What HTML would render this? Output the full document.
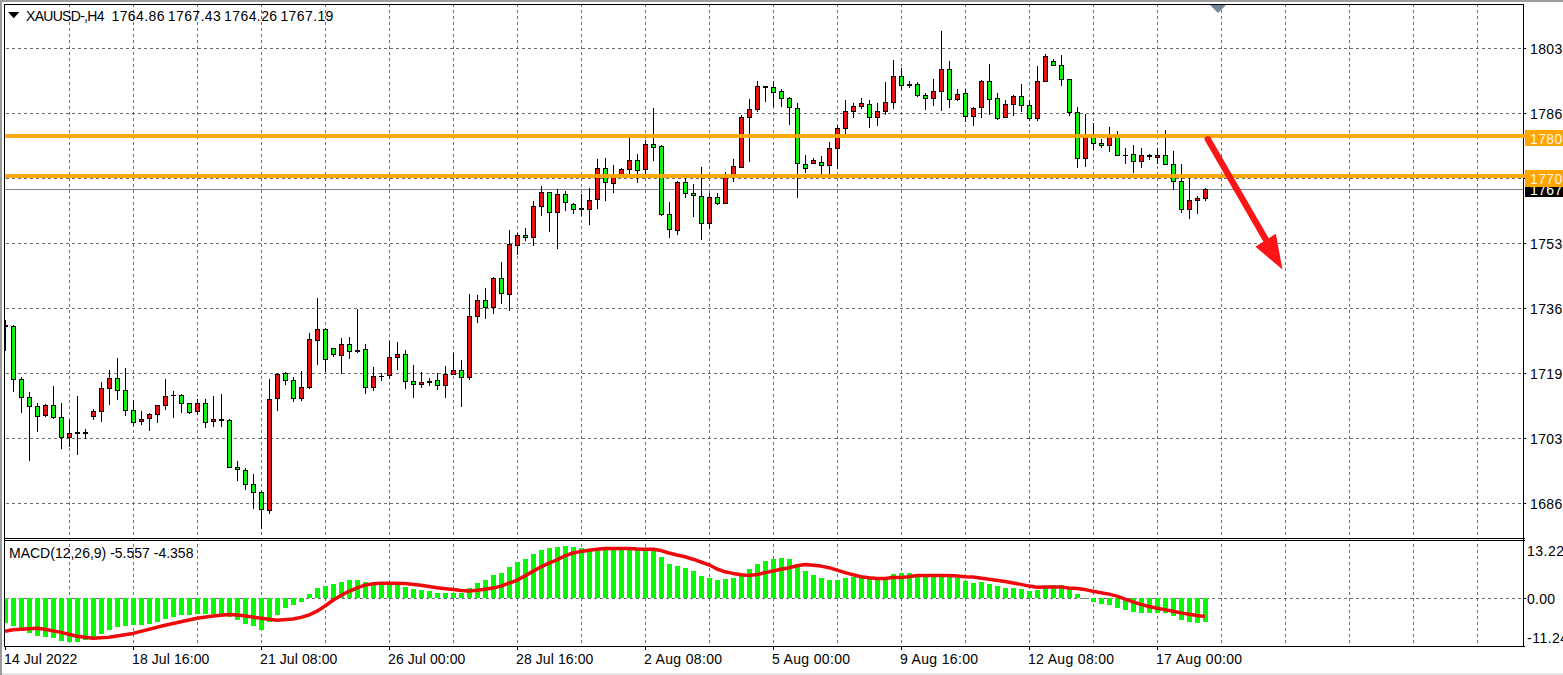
<!DOCTYPE html>
<html><head><meta charset="utf-8"><title>XAUUSD H4</title>
<style>
html,body{margin:0;padding:0;background:#fff;overflow:hidden;}
html{width:1563px;height:675px;}
body{width:1563px;height:675px;position:relative;overflow:hidden;font-family:"Liberation Sans",sans-serif;}
.t{position:absolute;font-family:"Liberation Sans",sans-serif;font-size:14px;line-height:16px;height:16px;white-space:nowrap;}
#w{position:absolute;left:0;top:0;width:1563px;height:675px;overflow:hidden;background:#fff;}
</style></head><body>
<div id="w">
<svg width="1563" height="675" viewBox="0 0 1563 675" style="position:absolute;left:0;top:0"><rect x="0" y="0" width="1563" height="675" fill="#fff"/><g shape-rendering="crispEdges"><rect x="0" y="0" width="1563" height="2" fill="#9c9c9c"/><rect x="0" y="0" width="2" height="675" fill="#9c9c9c"/><rect x="2" y="673" width="1561" height="2" fill="#e6e6e6"/><g stroke="#6e6e6e" stroke-width="1" stroke-dasharray="3 3" fill="none"><line x1="69.5" y1="4" x2="69.5" y2="646"/><line x1="133.5" y1="4" x2="133.5" y2="646"/><line x1="197.5" y1="4" x2="197.5" y2="646"/><line x1="261.5" y1="4" x2="261.5" y2="646"/><line x1="325.5" y1="4" x2="325.5" y2="646"/><line x1="389.5" y1="4" x2="389.5" y2="646"/><line x1="453.5" y1="4" x2="453.5" y2="646"/><line x1="517.5" y1="4" x2="517.5" y2="646"/><line x1="581.5" y1="4" x2="581.5" y2="646"/><line x1="645.5" y1="4" x2="645.5" y2="646"/><line x1="709.5" y1="4" x2="709.5" y2="646"/><line x1="773.5" y1="4" x2="773.5" y2="646"/><line x1="837.5" y1="4" x2="837.5" y2="646"/><line x1="901.5" y1="4" x2="901.5" y2="646"/><line x1="965.5" y1="4" x2="965.5" y2="646"/><line x1="1029.5" y1="4" x2="1029.5" y2="646"/><line x1="1093.5" y1="4" x2="1093.5" y2="646"/><line x1="1157.5" y1="4" x2="1157.5" y2="646"/><line x1="1221.5" y1="4" x2="1221.5" y2="646"/><line x1="1285.5" y1="4" x2="1285.5" y2="646"/><line x1="1349.5" y1="4" x2="1349.5" y2="646"/><line x1="1413.5" y1="4" x2="1413.5" y2="646"/><line x1="1477.5" y1="4" x2="1477.5" y2="646"/><line x1="6" y1="48.5" x2="1523" y2="48.5"/><line x1="6" y1="113.5" x2="1523" y2="113.5"/><line x1="6" y1="178.5" x2="1523" y2="178.5"/><line x1="6" y1="243.5" x2="1523" y2="243.5"/><line x1="6" y1="308.5" x2="1523" y2="308.5"/><line x1="6" y1="373.5" x2="1523" y2="373.5"/><line x1="6" y1="438.5" x2="1523" y2="438.5"/><line x1="6" y1="503.5" x2="1523" y2="503.5"/><line x1="6" y1="598.5" x2="1523" y2="598.5"/></g><g fill="#08f808"><rect x="5" y="598" width="3" height="25"/><rect x="11" y="598" width="5" height="28"/><rect x="19" y="598" width="5" height="30"/><rect x="27" y="598" width="5" height="35"/><rect x="35" y="598" width="5" height="38"/><rect x="43" y="598" width="5" height="39"/><rect x="51" y="598" width="5" height="40"/><rect x="59" y="598" width="5" height="43"/><rect x="67" y="598" width="5" height="44"/><rect x="75" y="598" width="5" height="44"/><rect x="83" y="598" width="5" height="42"/><rect x="91" y="598" width="5" height="39"/><rect x="99" y="598" width="5" height="36"/><rect x="107" y="598" width="5" height="32"/><rect x="115" y="598" width="5" height="29"/><rect x="123" y="598" width="5" height="28"/><rect x="131" y="598" width="5" height="27"/><rect x="139" y="598" width="5" height="27"/><rect x="147" y="598" width="5" height="26"/><rect x="155" y="598" width="5" height="24"/><rect x="163" y="598" width="5" height="21"/><rect x="171" y="598" width="5" height="19"/><rect x="179" y="598" width="5" height="17"/><rect x="187" y="598" width="5" height="17"/><rect x="195" y="598" width="5" height="16"/><rect x="203" y="598" width="5" height="16"/><rect x="211" y="598" width="5" height="16"/><rect x="219" y="598" width="5" height="17"/><rect x="227" y="598" width="5" height="19"/><rect x="235" y="598" width="5" height="22"/><rect x="243" y="598" width="5" height="26"/><rect x="251" y="598" width="5" height="28"/><rect x="259" y="598" width="5" height="32"/><rect x="267" y="598" width="5" height="24"/><rect x="275" y="598" width="5" height="17"/><rect x="283" y="598" width="5" height="10"/><rect x="291" y="598" width="5" height="7"/><rect x="299" y="598" width="5" height="4"/><rect x="307" y="594" width="5" height="4"/><rect x="315" y="588" width="5" height="10"/><rect x="323" y="586" width="5" height="12"/><rect x="331" y="584" width="5" height="14"/><rect x="339" y="582" width="5" height="16"/><rect x="347" y="580" width="5" height="18"/><rect x="355" y="580" width="5" height="18"/><rect x="363" y="582" width="5" height="16"/><rect x="371" y="584" width="5" height="14"/><rect x="379" y="584" width="5" height="14"/><rect x="387" y="584" width="5" height="14"/><rect x="395" y="585" width="5" height="13"/><rect x="403" y="587" width="5" height="11"/><rect x="411" y="589" width="5" height="9"/><rect x="419" y="590" width="5" height="8"/><rect x="427" y="591" width="5" height="7"/><rect x="435" y="593" width="5" height="5"/><rect x="443" y="593" width="5" height="5"/><rect x="451" y="593" width="5" height="5"/><rect x="459" y="593" width="5" height="5"/><rect x="467" y="588" width="5" height="10"/><rect x="475" y="583" width="5" height="15"/><rect x="483" y="580" width="5" height="18"/><rect x="491" y="575" width="5" height="23"/><rect x="499" y="573" width="5" height="25"/><rect x="507" y="567" width="5" height="31"/><rect x="515" y="562" width="5" height="36"/><rect x="523" y="559" width="5" height="39"/><rect x="531" y="554" width="5" height="44"/><rect x="539" y="550" width="5" height="48"/><rect x="547" y="548" width="5" height="50"/><rect x="555" y="547" width="5" height="51"/><rect x="563" y="546" width="5" height="52"/><rect x="571" y="547" width="5" height="51"/><rect x="579" y="548" width="5" height="50"/><rect x="587" y="549" width="5" height="49"/><rect x="595" y="548" width="5" height="50"/><rect x="603" y="548" width="5" height="50"/><rect x="611" y="548" width="5" height="50"/><rect x="619" y="548" width="5" height="50"/><rect x="627" y="548" width="5" height="50"/><rect x="635" y="548" width="5" height="50"/><rect x="643" y="548" width="5" height="50"/><rect x="651" y="548" width="5" height="50"/><rect x="659" y="557" width="5" height="41"/><rect x="667" y="564" width="5" height="34"/><rect x="675" y="566" width="5" height="32"/><rect x="683" y="568" width="5" height="30"/><rect x="691" y="571" width="5" height="27"/><rect x="699" y="576" width="5" height="22"/><rect x="707" y="578" width="5" height="20"/><rect x="715" y="580" width="5" height="18"/><rect x="723" y="579" width="5" height="19"/><rect x="731" y="578" width="5" height="20"/><rect x="739" y="575" width="5" height="23"/><rect x="747" y="569" width="5" height="29"/><rect x="755" y="564" width="5" height="34"/><rect x="763" y="561" width="5" height="37"/><rect x="771" y="559" width="5" height="39"/><rect x="779" y="558" width="5" height="40"/><rect x="787" y="559" width="5" height="39"/><rect x="795" y="567" width="5" height="31"/><rect x="803" y="571" width="5" height="27"/><rect x="811" y="575" width="5" height="23"/><rect x="819" y="578" width="5" height="20"/><rect x="827" y="580" width="5" height="18"/><rect x="835" y="580" width="5" height="18"/><rect x="843" y="578" width="5" height="20"/><rect x="851" y="577" width="5" height="21"/><rect x="859" y="577" width="5" height="21"/><rect x="867" y="578" width="5" height="20"/><rect x="875" y="579" width="5" height="19"/><rect x="883" y="577" width="5" height="21"/><rect x="891" y="574" width="5" height="24"/><rect x="899" y="573" width="5" height="25"/><rect x="907" y="573" width="5" height="25"/><rect x="915" y="575" width="5" height="23"/><rect x="923" y="576" width="5" height="22"/><rect x="931" y="576" width="5" height="22"/><rect x="939" y="576" width="5" height="22"/><rect x="947" y="577" width="5" height="21"/><rect x="955" y="578" width="5" height="20"/><rect x="963" y="581" width="5" height="17"/><rect x="971" y="583" width="5" height="15"/><rect x="979" y="582" width="5" height="16"/><rect x="987" y="584" width="5" height="14"/><rect x="995" y="586" width="5" height="12"/><rect x="1003" y="588" width="5" height="10"/><rect x="1011" y="588" width="5" height="10"/><rect x="1019" y="589" width="5" height="9"/><rect x="1027" y="591" width="5" height="7"/><rect x="1035" y="590" width="5" height="8"/><rect x="1043" y="588" width="5" height="10"/><rect x="1051" y="585" width="5" height="13"/><rect x="1059" y="585" width="5" height="13"/><rect x="1067" y="589" width="5" height="9"/><rect x="1075" y="594" width="5" height="4"/><rect x="1091" y="598" width="5" height="4"/><rect x="1099" y="598" width="5" height="6"/><rect x="1107" y="598" width="5" height="7"/><rect x="1115" y="598" width="5" height="10"/><rect x="1123" y="598" width="5" height="12"/><rect x="1131" y="598" width="5" height="14"/><rect x="1139" y="598" width="5" height="15"/><rect x="1147" y="598" width="5" height="15"/><rect x="1155" y="598" width="5" height="15"/><rect x="1163" y="598" width="5" height="15"/><rect x="1171" y="598" width="5" height="18"/><rect x="1179" y="598" width="5" height="22"/><rect x="1187" y="598" width="5" height="24"/><rect x="1195" y="598" width="5" height="25"/><rect x="1203" y="598" width="5" height="24"/><rect x="1081" y="598" width="8" height="1" fill="#5f8f5f"/></g><rect x="5" y="189" width="1518" height="1" fill="#7c8698"/><rect x="5" y="320" width="1" height="31" fill="#000"/><rect x="5" y="325" width="3" height="2" fill="#000"/><rect x="13" y="325" width="1" height="67" fill="#000"/><rect x="11" y="326" width="5" height="54" fill="#000"/><rect x="12" y="327" width="3" height="52" fill="#12f212"/><rect x="21" y="377" width="1" height="36" fill="#000"/><rect x="19" y="379" width="5" height="19" fill="#000"/><rect x="20" y="380" width="3" height="17" fill="#12f212"/><rect x="29" y="392" width="1" height="69" fill="#000"/><rect x="27" y="397" width="5" height="10" fill="#000"/><rect x="28" y="398" width="3" height="8" fill="#12f212"/><rect x="37" y="403" width="1" height="29" fill="#000"/><rect x="35" y="406" width="5" height="11" fill="#000"/><rect x="36" y="407" width="3" height="9" fill="#12f212"/><rect x="45" y="404" width="1" height="13" fill="#000"/><rect x="43" y="405" width="5" height="11" fill="#000"/><rect x="44" y="406" width="3" height="9" fill="#e61414"/><rect x="53" y="386" width="1" height="33" fill="#000"/><rect x="51" y="405" width="5" height="13" fill="#000"/><rect x="52" y="406" width="3" height="11" fill="#12f212"/><rect x="61" y="403" width="1" height="46" fill="#000"/><rect x="59" y="417" width="5" height="21" fill="#000"/><rect x="60" y="418" width="3" height="19" fill="#12f212"/><rect x="69" y="420" width="1" height="27" fill="#000"/><rect x="67" y="433" width="5" height="5" fill="#000"/><rect x="68" y="434" width="3" height="3" fill="#e61414"/><rect x="77" y="396" width="1" height="59" fill="#000"/><rect x="75" y="432" width="5" height="2" fill="#000"/><rect x="85" y="429" width="1" height="10" fill="#000"/><rect x="83" y="432" width="5" height="2" fill="#000"/><rect x="93" y="409" width="1" height="11" fill="#000"/><rect x="91" y="411" width="5" height="6" fill="#000"/><rect x="92" y="412" width="3" height="4" fill="#e61414"/><rect x="101" y="382" width="1" height="40" fill="#000"/><rect x="99" y="388" width="5" height="24" fill="#000"/><rect x="100" y="389" width="3" height="22" fill="#e61414"/><rect x="109" y="370" width="1" height="35" fill="#000"/><rect x="107" y="378" width="5" height="11" fill="#000"/><rect x="108" y="379" width="3" height="9" fill="#e61414"/><rect x="117" y="358" width="1" height="42" fill="#000"/><rect x="115" y="378" width="5" height="13" fill="#000"/><rect x="116" y="379" width="3" height="11" fill="#12f212"/><rect x="125" y="368" width="1" height="48" fill="#000"/><rect x="123" y="390" width="5" height="21" fill="#000"/><rect x="124" y="391" width="3" height="19" fill="#12f212"/><rect x="133" y="400" width="1" height="26" fill="#000"/><rect x="131" y="410" width="5" height="13" fill="#000"/><rect x="132" y="411" width="3" height="11" fill="#12f212"/><rect x="141" y="411" width="1" height="14" fill="#000"/><rect x="139" y="419" width="5" height="3" fill="#000"/><rect x="140" y="420" width="3" height="1" fill="#e61414"/><rect x="149" y="413" width="1" height="18" fill="#000"/><rect x="147" y="414" width="5" height="5" fill="#000"/><rect x="148" y="415" width="3" height="3" fill="#e61414"/><rect x="157" y="405" width="1" height="18" fill="#000"/><rect x="155" y="405" width="5" height="10" fill="#000"/><rect x="156" y="406" width="3" height="8" fill="#e61414"/><rect x="165" y="379" width="1" height="31" fill="#000"/><rect x="163" y="396" width="5" height="10" fill="#000"/><rect x="164" y="397" width="3" height="8" fill="#e61414"/><rect x="173" y="391" width="1" height="27" fill="#000"/><rect x="171" y="395" width="5" height="1" fill="#000"/><rect x="181" y="394" width="1" height="19" fill="#000"/><rect x="179" y="395" width="5" height="9" fill="#000"/><rect x="180" y="396" width="3" height="7" fill="#12f212"/><rect x="189" y="403" width="1" height="11" fill="#000"/><rect x="187" y="403" width="5" height="10" fill="#000"/><rect x="188" y="404" width="3" height="8" fill="#12f212"/><rect x="197" y="399" width="1" height="16" fill="#000"/><rect x="195" y="403" width="5" height="9" fill="#000"/><rect x="196" y="404" width="3" height="7" fill="#e61414"/><rect x="205" y="399" width="1" height="29" fill="#000"/><rect x="203" y="403" width="5" height="20" fill="#000"/><rect x="204" y="404" width="3" height="18" fill="#12f212"/><rect x="213" y="396" width="1" height="31" fill="#000"/><rect x="211" y="419" width="5" height="3" fill="#000"/><rect x="212" y="420" width="3" height="1" fill="#e61414"/><rect x="221" y="394" width="1" height="33" fill="#000"/><rect x="219" y="419" width="5" height="2" fill="#000"/><rect x="229" y="419" width="1" height="49" fill="#000"/><rect x="227" y="420" width="5" height="48" fill="#000"/><rect x="228" y="421" width="3" height="46" fill="#12f212"/><rect x="237" y="461" width="1" height="20" fill="#000"/><rect x="235" y="467" width="5" height="3" fill="#000"/><rect x="236" y="468" width="3" height="1" fill="#12f212"/><rect x="245" y="468" width="1" height="22" fill="#000"/><rect x="243" y="470" width="5" height="15" fill="#000"/><rect x="244" y="471" width="3" height="13" fill="#12f212"/><rect x="253" y="474" width="1" height="35" fill="#000"/><rect x="251" y="484" width="5" height="9" fill="#000"/><rect x="252" y="485" width="3" height="7" fill="#12f212"/><rect x="261" y="491" width="1" height="38" fill="#000"/><rect x="259" y="492" width="5" height="18" fill="#000"/><rect x="260" y="493" width="3" height="16" fill="#12f212"/><rect x="269" y="379" width="1" height="135" fill="#000"/><rect x="267" y="399" width="5" height="112" fill="#000"/><rect x="268" y="400" width="3" height="110" fill="#e61414"/><rect x="277" y="373" width="1" height="38" fill="#000"/><rect x="275" y="374" width="5" height="25" fill="#000"/><rect x="276" y="375" width="3" height="23" fill="#e61414"/><rect x="285" y="372" width="1" height="13" fill="#000"/><rect x="283" y="373" width="5" height="8" fill="#000"/><rect x="284" y="374" width="3" height="6" fill="#12f212"/><rect x="293" y="377" width="1" height="25" fill="#000"/><rect x="291" y="380" width="5" height="19" fill="#000"/><rect x="292" y="381" width="3" height="17" fill="#12f212"/><rect x="301" y="371" width="1" height="30" fill="#000"/><rect x="299" y="387" width="5" height="12" fill="#000"/><rect x="300" y="388" width="3" height="10" fill="#e61414"/><rect x="309" y="333" width="1" height="56" fill="#000"/><rect x="307" y="339" width="5" height="49" fill="#000"/><rect x="308" y="340" width="3" height="47" fill="#e61414"/><rect x="317" y="298" width="1" height="67" fill="#000"/><rect x="315" y="329" width="5" height="12" fill="#000"/><rect x="316" y="330" width="3" height="10" fill="#e61414"/><rect x="325" y="328" width="1" height="44" fill="#000"/><rect x="323" y="329" width="5" height="31" fill="#000"/><rect x="324" y="330" width="3" height="29" fill="#12f212"/><rect x="333" y="348" width="1" height="9" fill="#000"/><rect x="331" y="348" width="5" height="7" fill="#000"/><rect x="332" y="349" width="3" height="5" fill="#12f212"/><rect x="341" y="338" width="1" height="36" fill="#000"/><rect x="339" y="344" width="5" height="12" fill="#000"/><rect x="340" y="345" width="3" height="10" fill="#e61414"/><rect x="349" y="337" width="1" height="22" fill="#000"/><rect x="347" y="344" width="5" height="8" fill="#000"/><rect x="348" y="345" width="3" height="6" fill="#12f212"/><rect x="357" y="309" width="1" height="44" fill="#000"/><rect x="355" y="350" width="5" height="2" fill="#000"/><rect x="365" y="344" width="1" height="50" fill="#000"/><rect x="363" y="349" width="5" height="39" fill="#000"/><rect x="364" y="350" width="3" height="37" fill="#12f212"/><rect x="373" y="367" width="1" height="24" fill="#000"/><rect x="371" y="376" width="5" height="12" fill="#000"/><rect x="372" y="377" width="3" height="10" fill="#e61414"/><rect x="381" y="373" width="1" height="8" fill="#000"/><rect x="379" y="376" width="5" height="1" fill="#000"/><rect x="389" y="341" width="1" height="38" fill="#000"/><rect x="387" y="357" width="5" height="19" fill="#000"/><rect x="388" y="358" width="3" height="17" fill="#e61414"/><rect x="397" y="342" width="1" height="28" fill="#000"/><rect x="395" y="354" width="5" height="4" fill="#000"/><rect x="396" y="355" width="3" height="2" fill="#e61414"/><rect x="405" y="350" width="1" height="39" fill="#000"/><rect x="403" y="354" width="5" height="28" fill="#000"/><rect x="404" y="355" width="3" height="26" fill="#12f212"/><rect x="413" y="365" width="1" height="33" fill="#000"/><rect x="411" y="381" width="5" height="4" fill="#000"/><rect x="412" y="382" width="3" height="2" fill="#12f212"/><rect x="421" y="372" width="1" height="16" fill="#000"/><rect x="419" y="382" width="5" height="3" fill="#000"/><rect x="420" y="383" width="3" height="1" fill="#e61414"/><rect x="429" y="378" width="1" height="8" fill="#000"/><rect x="427" y="381" width="5" height="2" fill="#000"/><rect x="437" y="373" width="1" height="17" fill="#000"/><rect x="435" y="380" width="5" height="6" fill="#000"/><rect x="436" y="381" width="3" height="4" fill="#12f212"/><rect x="445" y="366" width="1" height="32" fill="#000"/><rect x="443" y="374" width="5" height="12" fill="#000"/><rect x="444" y="375" width="3" height="10" fill="#e61414"/><rect x="453" y="353" width="1" height="22" fill="#000"/><rect x="451" y="370" width="5" height="5" fill="#000"/><rect x="452" y="371" width="3" height="3" fill="#e61414"/><rect x="461" y="360" width="1" height="47" fill="#000"/><rect x="459" y="370" width="5" height="8" fill="#000"/><rect x="460" y="371" width="3" height="6" fill="#12f212"/><rect x="469" y="294" width="1" height="86" fill="#000"/><rect x="467" y="316" width="5" height="62" fill="#000"/><rect x="468" y="317" width="3" height="60" fill="#e61414"/><rect x="477" y="295" width="1" height="28" fill="#000"/><rect x="475" y="300" width="5" height="17" fill="#000"/><rect x="476" y="301" width="3" height="15" fill="#e61414"/><rect x="485" y="288" width="1" height="31" fill="#000"/><rect x="483" y="300" width="5" height="8" fill="#000"/><rect x="484" y="301" width="3" height="6" fill="#12f212"/><rect x="493" y="277" width="1" height="37" fill="#000"/><rect x="491" y="278" width="5" height="30" fill="#000"/><rect x="492" y="279" width="3" height="28" fill="#e61414"/><rect x="501" y="262" width="1" height="42" fill="#000"/><rect x="499" y="278" width="5" height="16" fill="#000"/><rect x="500" y="279" width="3" height="14" fill="#12f212"/><rect x="509" y="230" width="1" height="81" fill="#000"/><rect x="507" y="244" width="5" height="51" fill="#000"/><rect x="508" y="245" width="3" height="49" fill="#e61414"/><rect x="517" y="233" width="1" height="22" fill="#000"/><rect x="515" y="235" width="5" height="11" fill="#000"/><rect x="516" y="236" width="3" height="9" fill="#e61414"/><rect x="525" y="228" width="1" height="13" fill="#000"/><rect x="523" y="235" width="5" height="3" fill="#000"/><rect x="524" y="236" width="3" height="1" fill="#12f212"/><rect x="533" y="201" width="1" height="45" fill="#000"/><rect x="531" y="206" width="5" height="32" fill="#000"/><rect x="532" y="207" width="3" height="30" fill="#e61414"/><rect x="541" y="186" width="1" height="30" fill="#000"/><rect x="539" y="192" width="5" height="15" fill="#000"/><rect x="540" y="193" width="3" height="13" fill="#e61414"/><rect x="549" y="192" width="1" height="40" fill="#000"/><rect x="547" y="192" width="5" height="21" fill="#000"/><rect x="548" y="193" width="3" height="19" fill="#12f212"/><rect x="557" y="189" width="1" height="60" fill="#000"/><rect x="555" y="194" width="5" height="19" fill="#000"/><rect x="556" y="195" width="3" height="17" fill="#e61414"/><rect x="565" y="191" width="1" height="20" fill="#000"/><rect x="563" y="194" width="5" height="9" fill="#000"/><rect x="564" y="195" width="3" height="7" fill="#12f212"/><rect x="573" y="203" width="1" height="11" fill="#000"/><rect x="571" y="204" width="5" height="6" fill="#000"/><rect x="572" y="205" width="3" height="4" fill="#12f212"/><rect x="581" y="194" width="1" height="22" fill="#000"/><rect x="579" y="208" width="5" height="2" fill="#000"/><rect x="589" y="188" width="1" height="37" fill="#000"/><rect x="587" y="200" width="5" height="10" fill="#000"/><rect x="588" y="201" width="3" height="8" fill="#e61414"/><rect x="597" y="159" width="1" height="50" fill="#000"/><rect x="595" y="168" width="5" height="32" fill="#000"/><rect x="596" y="169" width="3" height="30" fill="#e61414"/><rect x="605" y="158" width="1" height="43" fill="#000"/><rect x="603" y="168" width="5" height="15" fill="#000"/><rect x="604" y="169" width="3" height="13" fill="#12f212"/><rect x="613" y="165" width="1" height="28" fill="#000"/><rect x="611" y="176" width="5" height="8" fill="#000"/><rect x="612" y="177" width="3" height="6" fill="#e61414"/><rect x="621" y="168" width="1" height="8" fill="#000"/><rect x="619" y="169" width="5" height="7" fill="#000"/><rect x="620" y="170" width="3" height="5" fill="#e61414"/><rect x="629" y="138" width="1" height="36" fill="#000"/><rect x="627" y="160" width="5" height="10" fill="#000"/><rect x="628" y="161" width="3" height="8" fill="#e61414"/><rect x="637" y="154" width="1" height="29" fill="#000"/><rect x="635" y="160" width="5" height="11" fill="#000"/><rect x="636" y="161" width="3" height="9" fill="#12f212"/><rect x="645" y="140" width="1" height="34" fill="#000"/><rect x="643" y="144" width="5" height="26" fill="#000"/><rect x="644" y="145" width="3" height="24" fill="#e61414"/><rect x="653" y="108" width="1" height="53" fill="#000"/><rect x="651" y="144" width="5" height="4" fill="#000"/><rect x="652" y="145" width="3" height="2" fill="#12f212"/><rect x="661" y="145" width="1" height="71" fill="#000"/><rect x="659" y="146" width="5" height="69" fill="#000"/><rect x="660" y="147" width="3" height="67" fill="#12f212"/><rect x="669" y="202" width="1" height="36" fill="#000"/><rect x="667" y="214" width="5" height="16" fill="#000"/><rect x="668" y="215" width="3" height="14" fill="#12f212"/><rect x="677" y="181" width="1" height="54" fill="#000"/><rect x="675" y="182" width="5" height="49" fill="#000"/><rect x="676" y="183" width="3" height="47" fill="#e61414"/><rect x="685" y="178" width="1" height="20" fill="#000"/><rect x="683" y="182" width="5" height="12" fill="#000"/><rect x="684" y="183" width="3" height="10" fill="#12f212"/><rect x="693" y="184" width="1" height="33" fill="#000"/><rect x="691" y="193" width="5" height="3" fill="#000"/><rect x="692" y="194" width="3" height="1" fill="#12f212"/><rect x="701" y="167" width="1" height="73" fill="#000"/><rect x="699" y="196" width="5" height="28" fill="#000"/><rect x="700" y="197" width="3" height="26" fill="#12f212"/><rect x="709" y="193" width="1" height="36" fill="#000"/><rect x="707" y="197" width="5" height="27" fill="#000"/><rect x="708" y="198" width="3" height="25" fill="#e61414"/><rect x="717" y="193" width="1" height="12" fill="#000"/><rect x="715" y="197" width="5" height="7" fill="#000"/><rect x="716" y="198" width="3" height="5" fill="#12f212"/><rect x="725" y="172" width="1" height="32" fill="#000"/><rect x="723" y="177" width="5" height="27" fill="#000"/><rect x="724" y="178" width="3" height="25" fill="#e61414"/><rect x="733" y="159" width="1" height="23" fill="#000"/><rect x="731" y="166" width="5" height="10" fill="#000"/><rect x="732" y="167" width="3" height="8" fill="#e61414"/><rect x="741" y="115" width="1" height="53" fill="#000"/><rect x="739" y="117" width="5" height="51" fill="#000"/><rect x="740" y="118" width="3" height="49" fill="#e61414"/><rect x="749" y="99" width="1" height="63" fill="#000"/><rect x="747" y="109" width="5" height="9" fill="#000"/><rect x="748" y="110" width="3" height="7" fill="#e61414"/><rect x="757" y="81" width="1" height="31" fill="#000"/><rect x="755" y="86" width="5" height="24" fill="#000"/><rect x="756" y="87" width="3" height="22" fill="#e61414"/><rect x="765" y="86" width="1" height="16" fill="#000"/><rect x="763" y="86" width="5" height="2" fill="#000"/><rect x="773" y="81" width="1" height="26" fill="#000"/><rect x="771" y="87" width="5" height="6" fill="#000"/><rect x="772" y="88" width="3" height="4" fill="#12f212"/><rect x="781" y="89" width="1" height="18" fill="#000"/><rect x="779" y="91" width="5" height="8" fill="#000"/><rect x="780" y="92" width="3" height="6" fill="#12f212"/><rect x="789" y="97" width="1" height="28" fill="#000"/><rect x="787" y="98" width="5" height="10" fill="#000"/><rect x="788" y="99" width="3" height="8" fill="#12f212"/><rect x="797" y="103" width="1" height="95" fill="#000"/><rect x="795" y="108" width="5" height="56" fill="#000"/><rect x="796" y="109" width="3" height="54" fill="#12f212"/><rect x="805" y="155" width="1" height="18" fill="#000"/><rect x="803" y="164" width="5" height="5" fill="#000"/><rect x="804" y="165" width="3" height="3" fill="#12f212"/><rect x="813" y="158" width="1" height="6" fill="#000"/><rect x="811" y="160" width="5" height="4" fill="#000"/><rect x="812" y="161" width="3" height="2" fill="#e61414"/><rect x="821" y="156" width="1" height="18" fill="#000"/><rect x="819" y="162" width="5" height="4" fill="#000"/><rect x="820" y="163" width="3" height="2" fill="#12f212"/><rect x="829" y="142" width="1" height="32" fill="#000"/><rect x="827" y="148" width="5" height="18" fill="#000"/><rect x="828" y="149" width="3" height="16" fill="#e61414"/><rect x="837" y="125" width="1" height="44" fill="#000"/><rect x="835" y="128" width="5" height="21" fill="#000"/><rect x="836" y="129" width="3" height="19" fill="#e61414"/><rect x="845" y="100" width="1" height="34" fill="#000"/><rect x="843" y="111" width="5" height="18" fill="#000"/><rect x="844" y="112" width="3" height="16" fill="#e61414"/><rect x="853" y="103" width="1" height="15" fill="#000"/><rect x="851" y="106" width="5" height="6" fill="#000"/><rect x="852" y="107" width="3" height="4" fill="#e61414"/><rect x="861" y="98" width="1" height="11" fill="#000"/><rect x="859" y="103" width="5" height="4" fill="#000"/><rect x="860" y="104" width="3" height="2" fill="#e61414"/><rect x="869" y="100" width="1" height="28" fill="#000"/><rect x="867" y="104" width="5" height="14" fill="#000"/><rect x="868" y="105" width="3" height="12" fill="#12f212"/><rect x="877" y="103" width="1" height="23" fill="#000"/><rect x="875" y="111" width="5" height="7" fill="#000"/><rect x="876" y="112" width="3" height="5" fill="#e61414"/><rect x="885" y="82" width="1" height="33" fill="#000"/><rect x="883" y="102" width="5" height="10" fill="#000"/><rect x="884" y="103" width="3" height="8" fill="#e61414"/><rect x="893" y="60" width="1" height="49" fill="#000"/><rect x="891" y="76" width="5" height="27" fill="#000"/><rect x="892" y="77" width="3" height="25" fill="#e61414"/><rect x="901" y="68" width="1" height="22" fill="#000"/><rect x="899" y="76" width="5" height="10" fill="#000"/><rect x="900" y="77" width="3" height="8" fill="#12f212"/><rect x="909" y="81" width="1" height="7" fill="#000"/><rect x="907" y="84" width="5" height="2" fill="#000"/><rect x="917" y="82" width="1" height="15" fill="#000"/><rect x="915" y="84" width="5" height="12" fill="#000"/><rect x="916" y="85" width="3" height="10" fill="#12f212"/><rect x="925" y="93" width="1" height="17" fill="#000"/><rect x="923" y="95" width="5" height="4" fill="#000"/><rect x="924" y="96" width="3" height="2" fill="#12f212"/><rect x="933" y="79" width="1" height="27" fill="#000"/><rect x="931" y="91" width="5" height="8" fill="#000"/><rect x="932" y="92" width="3" height="6" fill="#e61414"/><rect x="941" y="31" width="1" height="80" fill="#000"/><rect x="939" y="69" width="5" height="23" fill="#000"/><rect x="940" y="70" width="3" height="21" fill="#e61414"/><rect x="949" y="61" width="1" height="47" fill="#000"/><rect x="947" y="69" width="5" height="31" fill="#000"/><rect x="948" y="70" width="3" height="29" fill="#12f212"/><rect x="957" y="89" width="1" height="12" fill="#000"/><rect x="955" y="94" width="5" height="6" fill="#000"/><rect x="956" y="95" width="3" height="4" fill="#e61414"/><rect x="965" y="89" width="1" height="33" fill="#000"/><rect x="963" y="93" width="5" height="24" fill="#000"/><rect x="964" y="94" width="3" height="22" fill="#12f212"/><rect x="973" y="107" width="1" height="19" fill="#000"/><rect x="971" y="108" width="5" height="9" fill="#000"/><rect x="972" y="109" width="3" height="7" fill="#e61414"/><rect x="981" y="80" width="1" height="38" fill="#000"/><rect x="979" y="81" width="5" height="27" fill="#000"/><rect x="980" y="82" width="3" height="25" fill="#e61414"/><rect x="989" y="64" width="1" height="51" fill="#000"/><rect x="987" y="81" width="5" height="19" fill="#000"/><rect x="988" y="82" width="3" height="17" fill="#12f212"/><rect x="997" y="93" width="1" height="27" fill="#000"/><rect x="995" y="98" width="5" height="21" fill="#000"/><rect x="996" y="99" width="3" height="19" fill="#12f212"/><rect x="1005" y="100" width="1" height="18" fill="#000"/><rect x="1003" y="104" width="5" height="14" fill="#000"/><rect x="1004" y="105" width="3" height="12" fill="#e61414"/><rect x="1013" y="95" width="1" height="21" fill="#000"/><rect x="1011" y="96" width="5" height="9" fill="#000"/><rect x="1012" y="97" width="3" height="7" fill="#e61414"/><rect x="1021" y="84" width="1" height="28" fill="#000"/><rect x="1019" y="96" width="5" height="10" fill="#000"/><rect x="1020" y="97" width="3" height="8" fill="#12f212"/><rect x="1029" y="100" width="1" height="21" fill="#000"/><rect x="1027" y="105" width="5" height="14" fill="#000"/><rect x="1028" y="106" width="3" height="12" fill="#12f212"/><rect x="1037" y="66" width="1" height="55" fill="#000"/><rect x="1035" y="81" width="5" height="38" fill="#000"/><rect x="1036" y="82" width="3" height="36" fill="#e61414"/><rect x="1045" y="54" width="1" height="28" fill="#000"/><rect x="1043" y="56" width="5" height="26" fill="#000"/><rect x="1044" y="57" width="3" height="24" fill="#e61414"/><rect x="1053" y="59" width="1" height="7" fill="#000"/><rect x="1051" y="61" width="5" height="5" fill="#000"/><rect x="1052" y="62" width="3" height="3" fill="#12f212"/><rect x="1061" y="55" width="1" height="31" fill="#000"/><rect x="1059" y="65" width="5" height="15" fill="#000"/><rect x="1060" y="66" width="3" height="13" fill="#12f212"/><rect x="1069" y="79" width="1" height="37" fill="#000"/><rect x="1067" y="79" width="5" height="34" fill="#000"/><rect x="1068" y="80" width="3" height="32" fill="#12f212"/><rect x="1077" y="107" width="1" height="61" fill="#000"/><rect x="1075" y="112" width="5" height="47" fill="#000"/><rect x="1076" y="113" width="3" height="45" fill="#12f212"/><rect x="1085" y="114" width="1" height="53" fill="#000"/><rect x="1083" y="137" width="5" height="22" fill="#000"/><rect x="1084" y="138" width="3" height="20" fill="#e61414"/><rect x="1093" y="123" width="1" height="27" fill="#000"/><rect x="1091" y="135" width="5" height="9" fill="#000"/><rect x="1092" y="136" width="3" height="7" fill="#12f212"/><rect x="1101" y="139" width="1" height="9" fill="#000"/><rect x="1099" y="143" width="5" height="3" fill="#000"/><rect x="1100" y="144" width="3" height="1" fill="#12f212"/><rect x="1109" y="127" width="1" height="25" fill="#000"/><rect x="1107" y="136" width="5" height="10" fill="#000"/><rect x="1108" y="137" width="3" height="8" fill="#e61414"/><rect x="1117" y="131" width="1" height="25" fill="#000"/><rect x="1115" y="135" width="5" height="21" fill="#000"/><rect x="1116" y="136" width="3" height="19" fill="#12f212"/><rect x="1125" y="148" width="1" height="16" fill="#000"/><rect x="1123" y="155" width="5" height="1" fill="#000"/><rect x="1133" y="145" width="1" height="28" fill="#000"/><rect x="1131" y="154" width="5" height="8" fill="#000"/><rect x="1132" y="155" width="3" height="6" fill="#12f212"/><rect x="1141" y="148" width="1" height="20" fill="#000"/><rect x="1139" y="155" width="5" height="7" fill="#000"/><rect x="1140" y="156" width="3" height="5" fill="#e61414"/><rect x="1149" y="154" width="1" height="6" fill="#000"/><rect x="1147" y="155" width="5" height="2" fill="#000"/><rect x="1157" y="148" width="1" height="16" fill="#000"/><rect x="1155" y="155" width="5" height="3" fill="#000"/><rect x="1156" y="156" width="3" height="1" fill="#e61414"/><rect x="1165" y="130" width="1" height="35" fill="#000"/><rect x="1163" y="155" width="5" height="10" fill="#000"/><rect x="1164" y="156" width="3" height="8" fill="#12f212"/><rect x="1173" y="151" width="1" height="39" fill="#000"/><rect x="1171" y="164" width="5" height="18" fill="#000"/><rect x="1172" y="165" width="3" height="16" fill="#12f212"/><rect x="1181" y="164" width="1" height="49" fill="#000"/><rect x="1179" y="181" width="5" height="29" fill="#000"/><rect x="1180" y="182" width="3" height="27" fill="#12f212"/><rect x="1189" y="178" width="1" height="41" fill="#000"/><rect x="1187" y="200" width="5" height="10" fill="#000"/><rect x="1188" y="201" width="3" height="8" fill="#e61414"/><rect x="1197" y="196" width="1" height="18" fill="#000"/><rect x="1195" y="198" width="5" height="3" fill="#000"/><rect x="1196" y="199" width="3" height="1" fill="#e61414"/><rect x="1205" y="188" width="1" height="13" fill="#000"/><rect x="1203" y="189" width="5" height="10" fill="#000"/><rect x="1204" y="190" width="3" height="8" fill="#e61414"/><g fill="#000"><rect x="4" y="4" width="1520" height="1"/><rect x="4" y="4" width="1" height="643"/><rect x="1523" y="4" width="1" height="643"/><rect x="4" y="538" width="1521" height="1"/><rect x="4" y="540" width="1521" height="1"/><rect x="4" y="646" width="1521" height="1"/><rect x="1524" y="48" width="2" height="1"/><rect x="1524" y="113" width="2" height="1"/><rect x="1524" y="178" width="2" height="1"/><rect x="1524" y="243" width="2" height="1"/><rect x="1524" y="308" width="2" height="1"/><rect x="1524" y="373" width="2" height="1"/><rect x="1524" y="438" width="2" height="1"/><rect x="1524" y="503" width="2" height="1"/><rect x="1524" y="598" width="2" height="1"/><rect x="5" y="647" width="1" height="3"/><rect x="133" y="647" width="1" height="3"/><rect x="261" y="647" width="1" height="3"/><rect x="389" y="647" width="1" height="3"/><rect x="517" y="647" width="1" height="3"/><rect x="645" y="647" width="1" height="3"/><rect x="773" y="647" width="1" height="3"/><rect x="901" y="647" width="1" height="3"/><rect x="1029" y="647" width="1" height="3"/><rect x="1157" y="647" width="1" height="3"/></g><rect x="1525" y="181" width="38" height="16" fill="#000"/></g><polygon points="1210,5 1226,5 1218,13" fill="#72859a"/><polygon points="8,12 19.4,12 13.7,18.3" fill="#000"/><polyline points="5,631.3 13,629.8 37,628.3 45,629.3 61,632.4 77,636.2 93,638.3 109,637.3 133,633.4 165,625.2 197,618.2 213,616.1 229,614.6 240,615.3 261,618.2 277,620.2 293,619 301,617.4 309,615 317,611.2 325,606 333,600.3 341,595.4 349,591.3 357,587.8 365,585.1 373,583.7 381,583.2 389,583.2 405,583.5 421,585.3 437,587.8 453,589.4 461,590.5 469,591 477,590.2 485,589.2 493,588.1 501,586.1 509,583.2 517,580.3 525,575.9 533,571.3 541,566.9 549,563.1 557,559.9 565,555.8 573,553 581,551.4 589,550.3 597,549.3 605,548.5 613,548.5 621,548.5 629,548.5 637,549 645,549.3 653,549.3 661,550.6 669,553 677,555 685,556.8 693,559.2 701,562 709,564.8 717,569 725,571.8 733,573.4 741,574.7 749,575.4 757,574.6 765,572.6 773,571 781,569.3 789,567.7 797,565.7 805,564.4 813,565.3 821,566.1 829,567.7 837,570.2 845,572.6 853,574.7 861,576.7 869,577.8 877,578.6 885,578.6 893,577.5 901,577.5 909,576.7 917,575.4 925,575.4 933,575.4 941,575.4 949,575.4 957,575.9 965,576.7 973,577.1 989,579.2 1005,581.5 1021,584.4 1029,586.1 1037,587.2 1045,587 1053,587 1061,587 1069,588 1077,588.4 1085,589.6 1093,591.3 1101,592.7 1109,594.1 1117,596.1 1125,599.1 1133,601.8 1141,604.4 1149,606.5 1157,608.2 1165,609.6 1173,611.2 1181,612.9 1189,614.3 1197,615.5 1205,616.4" fill="none" stroke="#ee0a0a" stroke-width="3.5" stroke-linejoin="round" stroke-linecap="butt"/><g shape-rendering="crispEdges"><rect x="5" y="134" width="1520" height="4" fill="#ffa500" opacity="0.96"/><rect x="5" y="174" width="1520" height="4" fill="#ffa500" opacity="0.96"/></g><line x1="1207.8" y1="139.2" x2="1268.6" y2="244.3" stroke="#fa1616" stroke-width="6.3" stroke-linecap="round"/><polygon points="1282.5,269.5 1255.5,246.8 1275.8,233.7" fill="#fa1616"/></svg>
<div class="t" style="left:26px;top:8px;color:#000;letter-spacing:-0.7px">XAUUSD-,H4</div><div class="t" style="left:111.5px;top:8px;color:#000;word-spacing:-1.4px;letter-spacing:0.4px">1764.86 1767.43 1764.26 1767.19</div><div class="t" style="left:9px;top:545px;color:#000;">MACD(12,26,9) -5.557 -4.358</div><div class="t" style="left:1530px;top:40.7px;color:#000;letter-spacing:0.35px">1803</div><div class="t" style="left:1530px;top:105.7px;color:#000;letter-spacing:0.35px">1786</div><div class="t" style="left:1530px;top:235.7px;color:#000;letter-spacing:0.35px">1753</div><div class="t" style="left:1530px;top:300.7px;color:#000;letter-spacing:0.35px">1736</div><div class="t" style="left:1530px;top:365.7px;color:#000;letter-spacing:0.35px">1719</div><div class="t" style="left:1530px;top:430.7px;color:#000;letter-spacing:0.35px">1703</div><div class="t" style="left:1530px;top:495.7px;color:#000;letter-spacing:0.35px">1686</div><div class="t" style="left:1530px;top:181.7px;color:#fff;letter-spacing:0.35px">1767</div><div class="t" style="left:1527px;top:543.2px;color:#000;letter-spacing:0.5px">13.22</div><div class="t" style="left:1527px;top:591.4px;color:#000;letter-spacing:0.3px">0.00</div><div class="t" style="left:1527px;top:630px;color:#000;letter-spacing:0.5px">-11.24</div><div class="t" style="left:4px;top:651px;color:#000;letter-spacing:0.1px">14 Jul 2022</div><div class="t" style="left:132px;top:651px;color:#000;letter-spacing:0.1px">18 Jul 16:00</div><div class="t" style="left:260px;top:651px;color:#000;letter-spacing:0.1px">21 Jul 08:00</div><div class="t" style="left:388px;top:651px;color:#000;letter-spacing:0.1px">26 Jul 00:00</div><div class="t" style="left:516px;top:651px;color:#000;letter-spacing:0.1px">28 Jul 16:00</div><div class="t" style="left:644px;top:651px;color:#000;letter-spacing:0.33px">2 Aug 08:00</div><div class="t" style="left:772px;top:651px;color:#000;letter-spacing:0.33px">5 Aug 00:00</div><div class="t" style="left:900px;top:651px;color:#000;letter-spacing:0.33px">9 Aug 16:00</div><div class="t" style="left:1028px;top:651px;color:#000;letter-spacing:0.33px">12 Aug 08:00</div><div class="t" style="left:1156px;top:651px;color:#000;letter-spacing:0.33px">17 Aug 00:00</div><div style="position:absolute;left:1525px;top:130px;width:38px;height:16px;background:#ffa500"></div><div style="position:absolute;left:1525px;top:170px;width:38px;height:17px;background:#ffa500"></div><div class="t" style="left:1530px;top:131px;color:#fff6e6;letter-spacing:0.35px">1780</div><div class="t" style="left:1530px;top:171px;color:#fff6e6;letter-spacing:0.35px">1770</div>
</div>
</body></html>
